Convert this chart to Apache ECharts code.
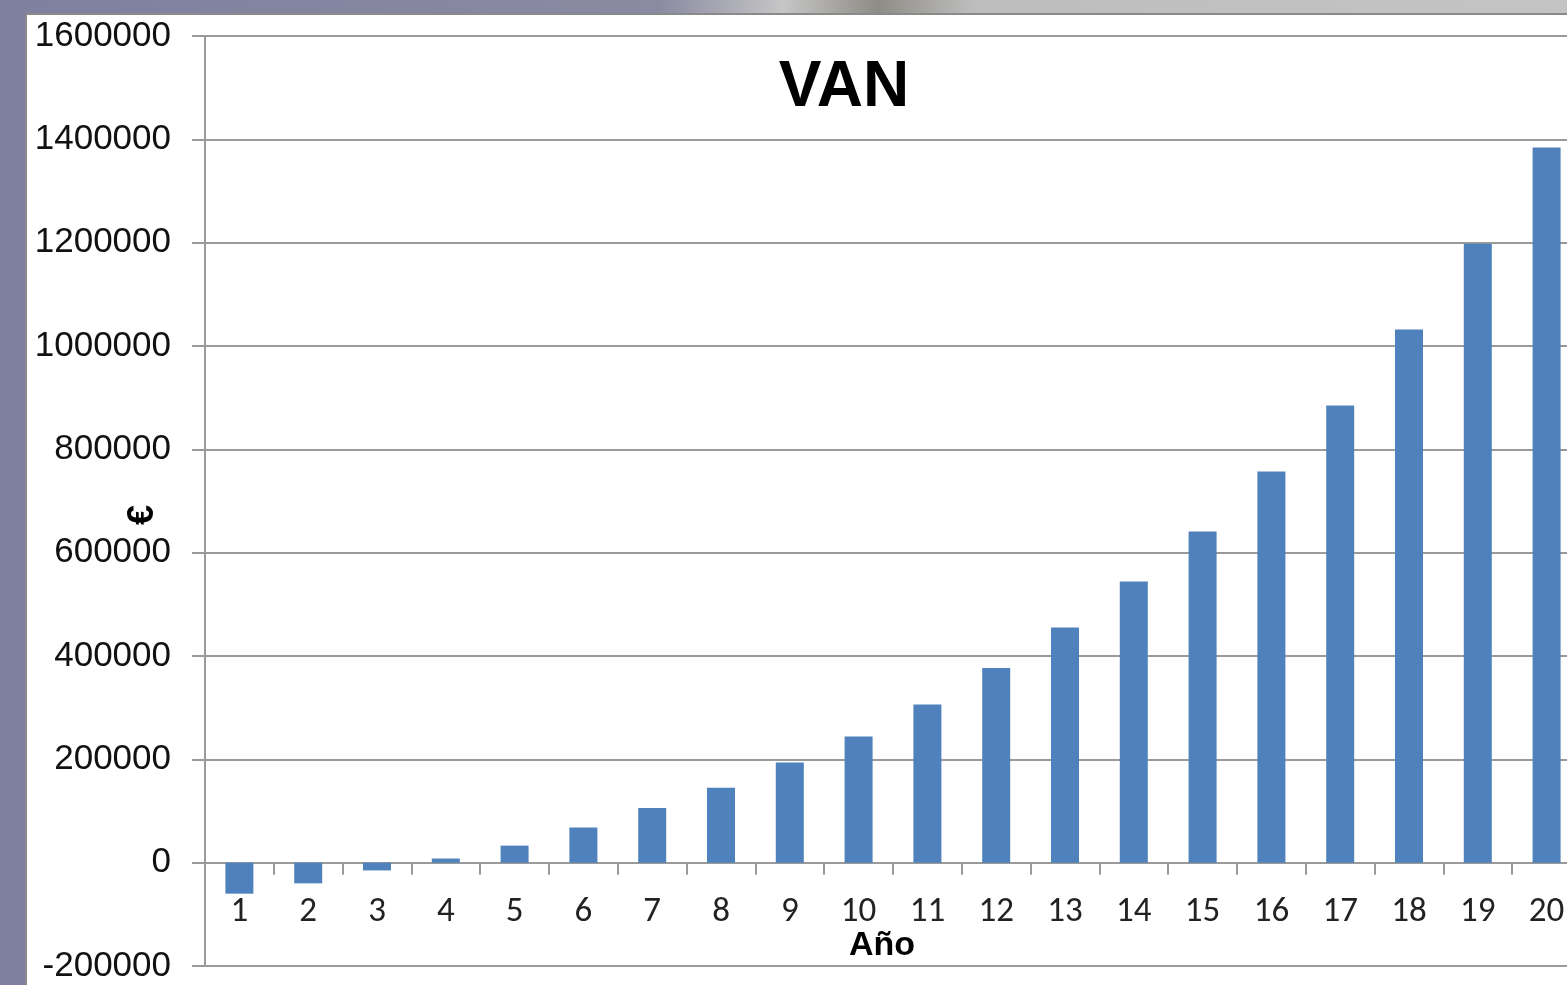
<!DOCTYPE html>
<html>
<head>
<meta charset="utf-8">
<script src="https://cdn.jsdelivr.net/npm/echarts@6/dist/echarts.min.js"></script>
<style>
  html, body { margin: 0; padding: 0; background: #fff; }
  #main { width: 1567px; height: 985px; }
</style>
</head>
<body>
<div id="main"></div>
<script>
var years = ['1', '2', '3', '4', '5', '6', '7', '8', '9', '10',
             '11', '12', '13', '14', '15', '16', '17', '18', '19', '20'];
var van = [-60000, -40000, -15000, 8000, 33000, 68000, 106000, 145000, 194000, 244000,
           306000, 377000, 455000, 544000, 641000, 757000, 885000, 1032000, 1198000, 1384000];

var myChart = echarts.init(document.getElementById('main'));

var option = {
    backgroundColor: '#ffffff',
    animation: false,
    title: {
        text: 'VAN',
        left: 839,
        top: 51,
        textAlign: 'center',
        textStyle: {
            fontFamily: 'Liberation Sans',
            fontSize: 64,
            fontWeight: 'bold',
            color: '#000'
        }
    },
    graphic: [
        {
            type: 'rect',
            shape: { x: 0, y: 0, width: 1567, height: 14 },
            style: {
                fill: new echarts.graphic.LinearGradient(0, 0, 1, 0, [
                    { offset: 0, color: '#7f809f' },
                    { offset: 0.42, color: '#8a8aa2' },
                    { offset: 0.5, color: '#c6c6c6' },
                    { offset: 0.56, color: '#8e8c86' },
                    { offset: 0.62, color: '#bdbdbd' },
                    { offset: 1, color: '#c4c4c4' }
                ])
            }
        },
        {
            type: 'rect',
            shape: { x: 0, y: 13, width: 1567, height: 2 },
            style: { fill: '#8a8a8a' }
        },
        {
            type: 'rect',
            shape: { x: 0, y: 0, width: 25, height: 985 },
            style: { fill: '#7f809f' }
        },
        {
            type: 'rect',
            shape: { x: 25, y: 14, width: 2, height: 971 },
            style: { fill: '#8a8a8a' }
        }
    ],
    grid: {
        left: 205,
        top: 36,
        width: 1376,
        bottom: 19,
        containLabel: false,
        outerBoundsMode: 'none'
    },
    xAxis: {
        type: 'category',
        data: years,
        name: 'Año',
        nameLocation: 'middle',
        nameGap: -37,
        nameMoveOverlap: false,
        nameTextStyle: {
            fontFamily: 'Liberation Sans',
            fontSize: 34,
            fontWeight: 'bold',
            color: '#000',
            padding: [0, 22, 0, 0]
        },
        axisLine: { onZero: true, lineStyle: { color: '#9a9a9a', width: 2 } },
        axisTick: { show: true, length: 12, lineStyle: { color: '#9a9a9a', width: 2 } },
        axisLabel: {
            fontFamily: 'Carlito, Liberation Sans',
            fontSize: 35,
            color: '#222',
            margin: -71
        }
    },
    yAxis: {
        type: 'value',
        min: -200000,
        max: 1600000,
        interval: 200000,
        name: '€',
        nameLocation: 'middle',
        nameRotate: 90,
        nameGap: 44,
        nameMoveOverlap: false,
        nameTextStyle: {
            fontFamily: 'Liberation Sans',
            fontSize: 36,
            fontWeight: 'bold',
            color: '#000',
            padding: [0, 28, 0, 0]
        },
        axisLine: { show: true, lineStyle: { color: '#9a9a9a', width: 2 } },
        axisTick: { show: true, length: 13, lineStyle: { color: '#9a9a9a', width: 2 } },
        splitLine: { lineStyle: { color: '#9a9a9a', width: 2 } },
        axisLabel: {
            fontFamily: 'Liberation Sans',
            fontSize: 35,
            color: '#111',
            margin: 34,
            formatter: function (v) { return String(v); }
        }
    },
    series: [
        {
            name: 'VAN',
            type: 'bar',
            data: van,
            barWidth: 28,
            itemStyle: { color: '#4f81bd' }
        }
    ]
};

myChart.setOption(option);
</script>
</body>
</html>
